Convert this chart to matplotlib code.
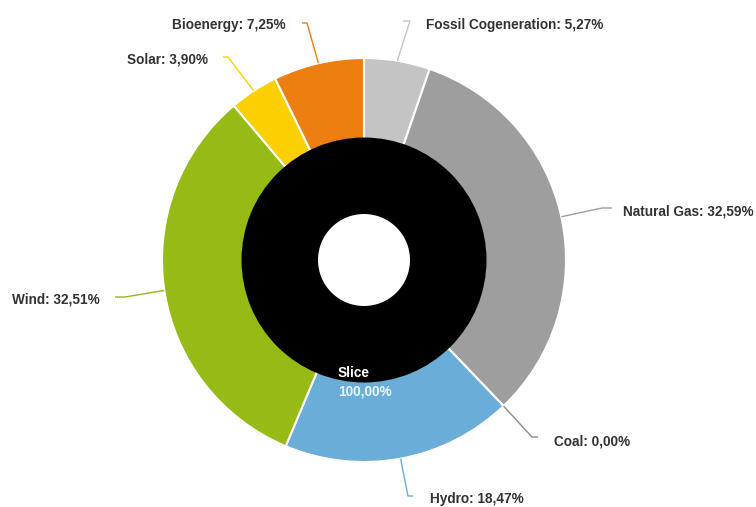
import numpy as np
import matplotlib.pyplot as plt

# outer ring: generation mix, inner ring: the single total slice
sources = ["Fossil Cogeneration", "Natural Gas", "Coal", "Hydro", "Wind", "Solar", "Bioenergy"]
shares = [5.27, 32.59, 0.00, 18.47, 32.51, 3.90, 7.25]
colors = ["#c4c4c4", "#9e9e9e", "#8a8a8a", "#6aadd8", "#95bb14", "#fccf03", "#ec7f10"]
inner_name = "Slice"
inner_share = [100.0]

W, H = 756, 507
cx, cy = 364, H - 260
r_out, r_mid, r_hole = 202, 121, 46


def fmt(v):
    return f"{v:.2f}".replace(".", ",") + "%"


# connector elbow, connector end, text anchor (pixel coords from top-left), alignment
layout = {
    "Fossil Cogeneration": ((410, 21), (403, 21), (426, 29.5), "left"),
    "Natural Gas": ((602, 208), (612, 208), (623, 215), "left"),
    "Coal": ((532, 437), (538, 437), (554, 445), "left"),
    "Hydro": ((408, 496), (413, 496), (430, 503), "left"),
    "Wind": ((125, 297), (115, 297), (100, 303), "right"),
    "Solar": ((228, 57), (223, 57), (208, 63), "right"),
    "Bioenergy": ((307, 23), (302, 23), (286, 29.5), "right"),
}

fig = plt.figure(figsize=(W / 100, H / 100), dpi=100)
ax = fig.add_axes([0, 0, 1, 1])

wedges, _ = ax.pie(shares, colors=colors, radius=r_out, center=(cx, cy),
                   startangle=90, counterclock=False,
                   wedgeprops=dict(width=r_out - r_mid, edgecolor="white", linewidth=1.5))
# black ring slightly wider so it hides the white inner edges of the outer slices
inner, _ = ax.pie(inner_share, colors=["black"], radius=r_mid + 1.5, center=(cx, cy),
                  startangle=90, counterclock=False,
                  wedgeprops=dict(width=r_mid + 1.5 - r_hole, edgecolor="none"))
for w in inner:
    w.set_zorder(3)

ax.set_xlim(0, W)
ax.set_ylim(0, H)
ax.set_aspect("equal")
ax.axis("off")

for w, name, val, col in zip(wedges, sources, shares, colors):
    mid = np.deg2rad((w.theta1 + w.theta2) / 2)
    ax_x = cx + r_out * np.cos(mid)
    ax_y = cy + r_out * np.sin(mid)
    (ex, ey), (tx, ty), (lx, ly), ha = layout[name]
    ax.plot([ax_x, ex, tx], [ax_y, H - ey, H - ty], color=col, lw=1, solid_capstyle="butt")
    ax.text(lx, H - ly, f"{name}: {fmt(val)}", ha=ha, va="baseline",
            fontsize=9.8, fontweight="bold", color="#333333", family="Liberation Sans")

ax.text(338, H - 377, inner_name, ha="left", va="baseline", fontsize=9.8,
        fontweight="bold", color="white", family="Liberation Sans", zorder=5)
ax.text(338, H - 395, fmt(inner_share[0]), ha="left", va="baseline", fontsize=9.8,
        fontweight="bold", color="#eef6ff", family="Liberation Sans", zorder=5)

fig.savefig("out.png", dpi=100, facecolor="white")
